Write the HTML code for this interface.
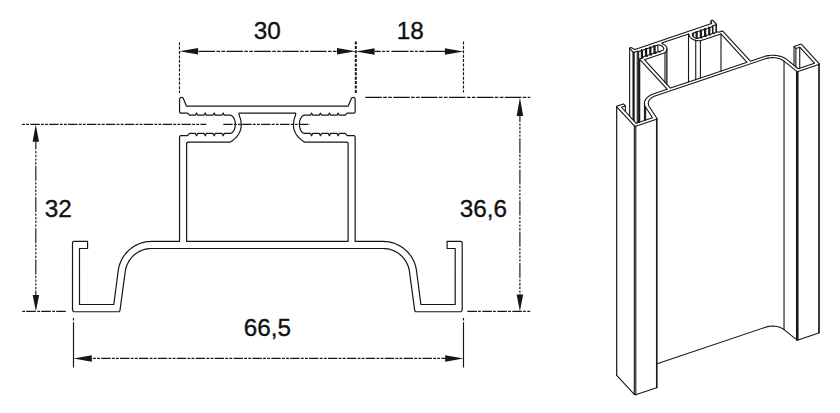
<!DOCTYPE html>
<html lang="en"><head><meta charset="utf-8"><title>Profile 66,5 x 36,6</title>
<style>html,body{margin:0;padding:0;background:#fff;overflow:hidden}svg{display:block}.e{fill:none;stroke:#161616;stroke-width:1.1;stroke-linecap:round;stroke-linejoin:round}</style></head>
<body>
<svg width="840" height="413" viewBox="0 0 840 413" font-family="'Liberation Sans', Arial, Helvetica, sans-serif" fill="#111">
<rect width="840" height="413" fill="#fff"/>
<g id="dimensions">
<path d="M179.5 42.2L179.5 93" fill="none" stroke="#161616" stroke-width="1.15" stroke-dasharray="3 1.4" stroke-dashoffset="0"/>
<path d="M355.8 41.5L355.8 93.5" fill="none" stroke="#161616" stroke-width="2.0" stroke-dasharray="3 1.4" stroke-dashoffset="0"/>
<path d="M463.5 41.5L463.5 92.5" fill="none" stroke="#161616" stroke-width="1.15" stroke-dasharray="3 1.4" stroke-dashoffset="0"/>
<path d="M198.5 51.3L337.5 51.3" fill="none" stroke="#161616" stroke-width="1.15" stroke-dasharray="16.5 1.4 3.6 1.4 3.6 1.4" stroke-dashoffset="0"/>
<path d="M375 51.4L445 51.4" fill="none" stroke="#161616" stroke-width="1.15" stroke-dasharray="5.7 1.4 2.9 1.4 2.9 2.1 17.1 1.4 3.6 1.4 2.9 1.4 5 1.4 19.3" stroke-dashoffset="0"/>
<path d="M179.5 51.3L198.1 48.05L198.1 54.55Z" fill="#161616"/>
<path d="M355.6 51.3L337 48.05L337 54.55Z" fill="#161616"/>
<path d="M356 51.4L374.6 48.15L374.6 54.65Z" fill="#161616"/>
<path d="M463.5 51.4L444.9 48.15L444.9 54.65Z" fill="#161616"/>
<text x="267.2" y="38.8" font-size="24.3" text-anchor="middle" stroke="#111" stroke-width="0.35">30</text>
<text x="410.2" y="38.8" font-size="24.3" text-anchor="middle" stroke="#111" stroke-width="0.35">18</text>
<path d="M365.3 97.4L530.3 97.4" fill="none" stroke="#161616" stroke-width="1.15" stroke-dasharray="16.5 1.4 3.6 1.4 3.6 1.4" stroke-dashoffset="0"/>
<path d="M467.3 311.4L530.2 311.4" fill="none" stroke="#161616" stroke-width="1.15" stroke-dasharray="9.6 1.2 2.7 1.5" stroke-dashoffset="0"/>
<path d="M519.9 115L519.9 296" fill="none" stroke="#161616" stroke-width="1.15" stroke-dasharray="15 1.4 2.3 1.4 2.3 1.4 2.3 1.4 2.3 1.4" stroke-dashoffset="8"/>
<path d="M519.9 97.4L516.65 115.9L523.15 115.9Z" fill="#161616"/>
<path d="M519.9 311.5L516.65 294.5L523.15 294.5Z" fill="#161616"/>
<text x="483.5" y="216.9" font-size="24.3" text-anchor="middle" stroke="#111" stroke-width="0.35">36,6</text>
<path d="M22.1 124.4L206.2 124.4" fill="none" stroke="#161616" stroke-width="1.15" stroke-dasharray="9.4 1.3 2.8 1.3 2.8 1.3" stroke-dashoffset="10.7"/>
<path d="M223.3 124.4L310 124.4" fill="none" stroke="#161616" stroke-width="1.15" stroke-dasharray="9.4 1.3 2.8 1.3 2.8 1.3" stroke-dashoffset="0"/>
<path d="M65.8 311.3L22.1 311.3" fill="none" stroke="#161616" stroke-width="1.15" stroke-dasharray="9.6 1.2 2.7 1.5" stroke-dashoffset="0"/>
<path d="M35.8 141.5L35.8 296" fill="none" stroke="#161616" stroke-width="1.15" stroke-dasharray="15 1.4 2.3 1.4 2.3 1.4 2.3 1.4 2.3 1.4" stroke-dashoffset="6.9"/>
<path d="M35.8 124.4L32.55 141.8L39.05 141.8Z" fill="#161616"/>
<path d="M35.9 311.2L32.65 295L39.15 295Z" fill="#161616"/>
<text x="58.3" y="217.3" font-size="24.3" text-anchor="middle" stroke="#111" stroke-width="0.35">32</text>
<path d="M73.5 318L73.5 367.5" fill="none" stroke="#161616" stroke-width="1.15" stroke-dasharray="2.6 1.6 200 0" stroke-dashoffset="0"/>
<path d="M463.5 318L463.5 367.5" fill="none" stroke="#161616" stroke-width="1.15" stroke-dasharray="2.6 1.6 200 0" stroke-dashoffset="0"/>
<path d="M91.5 358.4L445.5 358.4" fill="none" stroke="#161616" stroke-width="1.15" stroke-dasharray="9.4 1.3 2.8 1.3 2.8 1.3" stroke-dashoffset="9.2"/>
<path d="M73.5 358.4L91.8 355.15L91.8 361.65Z" fill="#161616"/>
<path d="M463.5 358.4L445.2 355.15L445.2 361.65Z" fill="#161616"/>
<text x="267.4" y="336" font-size="24.3" text-anchor="middle" stroke="#111" stroke-width="0.35">66,5</text>
</g>
<g id="profile">
<path d="M267.35 106.2L186.6 106.2L183.4 98.7L182.87 97.97L182.09 97.51L181.21 97.39L180.39 97.66L179.79 98.37L179.55 99.6L179.55 111.7L179.66 112.27L179.99 112.76L180.48 113.09L181.05 113.2L187.6 113.2L189.4 115.2L195.2 115.2L196.6 113L197.6 115.2L203.9 115.2L205.3 113L206.3 115.2L212.9 115.2L214.3 113L215.3 115.2L221.8 115.2L223.2 113L224.2 115.2L230 115.2L231.18 115.43L232.3 116.1L233.3 117.19L234.14 118.63L234.78 120.35L235.17 122.28L235.3 124.3L235.17 126.32L234.78 128.25L234.14 129.97L233.3 131.41L232.3 132.5L231.18 133.17L230 133.4L224.2 133.4L223.2 135.8L221.8 133.4L215.3 133.4L214.3 135.8L212.9 133.4L206.3 133.4L205.3 135.8L203.9 133.4L197.6 133.4L196.6 135.8L195.2 133.4L189.4 133.4L187.6 135.6L181.05 135.6L180.48 135.71L179.99 136.04L179.66 136.53L179.55 137.1L179.55 241.4L151.6 241.4L148.59 241.53L145.61 241.94L142.67 242.6L139.81 243.53L137.04 244.71L134.38 246.13L131.86 247.78L129.5 249.65L127.32 251.73L125.33 253.99L123.55 256.42L122 259L120.68 261.7L119.6 264.52L118.79 267.42L118.23 270.38L113.8 304.5L79.5 304.5L79.5 248.5L87.6 248.5L87.6 241.4L74 241.4L73.43 241.51L72.94 241.84L72.61 242.33L72.5 242.9L72.5 309.75L72.65 310.52L73.09 311.16L73.73 311.6L74.5 311.75L118.2 311.75L119.18 311.56L119.79 310.88L120.1 309.55L125.26 271.37L125.7 269.03L126.35 266.75L127.19 264.53L128.23 262.39L129.46 260.35L130.87 258.44L132.44 256.65L134.16 255.02L136.02 253.54L138.01 252.23L140.1 251.11L142.29 250.18L144.55 249.45L146.87 248.92L149.23 248.61L151.6 248.5L267.35 248.5L383.1 248.5L385.47 248.61L387.83 248.92L390.15 249.45L392.41 250.18L394.6 251.11L396.69 252.23L398.68 253.54L400.54 255.02L402.26 256.65L403.83 258.44L405.24 260.35L406.47 262.39L407.51 264.53L408.35 266.75L409 269.03L409.44 271.37L414.6 309.55L414.91 310.88L415.52 311.56L416.5 311.75L460.2 311.75L460.97 311.6L461.61 311.16L462.05 310.52L462.2 309.75L462.2 242.9L462.09 242.33L461.76 241.84L461.27 241.51L460.7 241.4L447.1 241.4L447.1 248.5L455.2 248.5L455.2 304.5L420.9 304.5L416.47 270.38L415.91 267.42L415.1 264.52L414.02 261.7L412.7 259L411.15 256.42L409.37 253.99L407.38 251.73L405.2 249.65L402.84 247.78L400.32 246.13L397.66 244.71L394.89 243.53L392.03 242.6L389.09 241.94L386.11 241.53L383.1 241.4L355.15 241.4L355.15 137.1L355.04 136.53L354.71 136.04L354.22 135.71L353.65 135.6L347.1 135.6L345.3 133.4L339.5 133.4L338.1 135.8L337.1 133.4L330.8 133.4L329.4 135.8L328.4 133.4L321.8 133.4L320.4 135.8L319.4 133.4L312.9 133.4L311.5 135.8L310.5 133.4L304.7 133.4L303.52 133.17L302.4 132.5L301.4 131.41L300.56 129.97L299.92 128.25L299.53 126.32L299.4 124.3L299.53 122.28L299.92 120.35L300.56 118.63L301.4 117.19L302.4 116.1L303.52 115.43L304.7 115.2L310.5 115.2L311.5 113L312.9 115.2L319.4 115.2L320.4 113L321.8 115.2L328.4 115.2L329.4 113L330.8 115.2L337.1 115.2L338.1 113L339.5 115.2L345.3 115.2L347.1 113.2L353.65 113.2L354.22 113.09L354.71 112.76L355.04 112.27L355.15 111.7L355.15 99.6L354.91 98.37L354.31 97.66L353.49 97.39L352.61 97.51L351.83 97.97L351.3 98.7L348.1 106.2ZM267.35 113.2L239 113.2L239.2 115.6L240.4 118.6L241 121.5L241.3 124.4L241 128.2L240.1 131.3L238.7 134L236.8 136.7L234.4 138.9L232.3 140.7L230 142.2L188.1 142.2L187.53 142.31L187.04 142.64L186.71 143.13L186.6 143.7L186.6 241.4L267.35 241.4L348.1 241.4L348.1 143.7L347.99 143.13L347.66 142.64L347.17 142.31L346.6 142.2L304.7 142.2L302.4 140.7L300.3 138.9L297.9 136.7L296 134L294.6 131.3L293.7 128.2L293.4 124.4L293.7 121.5L294.3 118.6L295.5 115.6L295.7 113.2Z" fill="none" stroke="#161616" stroke-width="1.2" stroke-linejoin="round"/>
</g>
<g id="iso">
<path class="e" d="M629.64 48.26V116.08M633.03 52.11V119.78M634.14 52.3V120.98M637.25 51.25V122.94M638.63 51.54V122.48M641.38 50.61V58.25M641.46 49.76V58.23M642.52 50.23V57.87M645.5 49.22V56.04M645.59 48.37V56.01M646.64 48.84V55.99M649.77 47.78V54.6M649.86 46.93V54.57M650.91 47.4V54.65M653.99 46.36V53.18M654.08 45.51V53.15M655.13 45.98V53.2M657.88 45.05V51.87M659.92 51.18V51.98M655.69 52.61V53.4M651.43 54.04V54.84M647.3 55.43V56.23M639.61 59.2V122.14M639.71 59.38V122.11M644.45 103.46V120.51M645.65 107.32V120.11M625.37 105.95V111.43M616.64 106.58V375.08M616.74 106.76V375.26M634.31 125.9V394.4M635.78 126.15V394.65M656.51 119.17V387.67M656.92 118.95V387.45M657.03 118.66V387.16M784.03 61.07V329.57M796.51 71.17V339.67M797.01 71.5V340M797.48 71.6V340.1M797.99 71.5V340M818.72 64.52V333.02M819.27 63.87V332.37M794.02 46.47V65.32M795.88 48.51V66.85M799.73 47.21V68.2M693.31 33.11V36.68M696.06 32.18V38.29M697.2 31.8V38.44M700.29 30.76V37.58M701.42 30.38V37.67M704.55 29.32V36.14M705.69 28.94V36.27M708.68 27.93V34.75M709.82 27.55V34.76M712.57 26.62V33.44M712.9 25.76V33.33M716 24.72V32.29M716.42 24.23V32.15M711.08 20.94V23.75M666.95 49.04V84.28M666.76 50.12V84.07M664.98 52.78V82.13M720.99 33.9V71.08M700.41 40.84V78.01M695.74 40.35V79.59M688.52 33.98V82.02"/>
<path class="e" d="M616.64 375.08L616.74 375.26L634.31 394.4L634.58 394.59L634.96 394.71L635.38 394.73L635.78 394.65L656.51 387.67L656.92 387.45L657.03 387.16M657.15 363.75L765.53 327.23L766.68 326.88L767.88 326.6L769.12 326.38L770.39 326.23L771.67 326.14L772.96 326.13L774.24 326.19L775.51 326.31L776.76 326.5L777.98 326.76L779.15 327.09L780.26 327.47L781.32 327.92L782.3 328.42L783.21 328.97L784.03 329.57L796.51 339.67L797.01 340L797.48 340.1L797.99 340L818.72 333.02L819.04 332.85L819.24 332.62L819.27 332.37"/>
<path class="e" d="M673.23 36.5L634.93 49.41L631.44 47.77L631 47.65L630.51 47.64L630.06 47.75L629.74 47.95L629.64 48.26L629.86 48.65L633.03 52.11L633.24 52.25L633.52 52.34L633.84 52.36L634.14 52.3L637.25 51.25L638.63 51.54L641.38 50.61L641.46 49.76L642.52 50.23L645.5 49.22L645.59 48.37L646.64 48.84L649.77 47.78L649.86 46.93L650.91 47.4L653.99 46.36L654.08 45.51L655.13 45.98L657.88 45.05L658.5 44.93L659.21 44.94L659.97 45.09L660.75 45.37L661.5 45.76L662.19 46.25L662.79 46.81L663.26 47.41L663.58 48.02L663.73 48.61L663.71 49.16L663.52 49.63L663.17 50L662.67 50.26L659.92 51.18L660.07 52.03L658.78 51.57L655.69 52.61L655.85 53.45L654.56 52.99L651.43 54.04L651.58 54.89L650.29 54.43L647.3 55.43L647.46 56.28L646.16 55.82L643.41 56.75L643.13 57.66L640.03 58.71L639.79 58.83L639.64 59L639.61 59.2L639.71 59.38L667.12 89.23L653.86 93.7L652.47 94.21L651.16 94.81L649.95 95.47L648.83 96.19L647.83 96.97L646.94 97.8L646.18 98.68L645.55 99.59L645.06 100.53L644.71 101.5L644.51 102.48L644.45 103.46L644.53 104.45L644.76 105.42L645.14 106.38L645.65 107.32L652.52 117.8L636.25 123.28L621.53 107.25L625.37 105.95L623.51 103.92L617.06 106.1L616.82 106.22L616.67 106.39L616.64 106.58L616.74 106.76L634.31 125.9L634.58 126.09L634.96 126.21L635.38 126.23L635.78 126.15L656.51 119.17L656.92 118.95L657.03 118.66L656.83 118.23L649.25 106.48L648.84 105.74L648.55 104.99L648.36 104.21L648.3 103.44L648.34 102.66L648.51 101.88L648.78 101.12L649.17 100.38L649.66 99.66L650.26 98.97L650.96 98.31L651.76 97.7L652.64 97.13L653.6 96.6L654.63 96.14L655.73 95.73L710.63 77.23L765.53 58.73L766.68 58.38L767.88 58.1L769.12 57.88L770.39 57.73L771.67 57.64L772.96 57.63L774.24 57.69L775.51 57.81L776.76 58L777.98 58.26L779.15 58.59L780.26 58.97L781.32 59.42L782.3 59.92L783.21 60.47L784.03 61.07L796.51 71.17L797.01 71.5L797.48 71.6L797.99 71.5L818.72 64.52L819.04 64.35L819.24 64.12L819.27 63.87L819.14 63.62L801.58 44.49L801.37 44.34L801.09 44.26L800.77 44.24L800.47 44.3L794.02 46.47L795.88 48.51L799.73 47.21L814.44 63.24L798.18 68.72L787.1 59.66L786.06 58.9L784.91 58.2L783.67 57.57L782.33 57.01L780.91 56.52L779.43 56.11L777.89 55.78L776.31 55.53L774.7 55.37L773.07 55.3L771.44 55.32L769.82 55.43L768.22 55.62L766.65 55.9L765.13 56.26L763.66 56.7L750.41 61.17L723 31.32L722.79 31.17L722.51 31.08L722.19 31.07L721.89 31.13L718.78 32.17L717.35 31.83L714.6 32.76L714.57 33.67L713.46 33.14L710.48 34.15L710.44 35.06L709.34 34.53L706.21 35.59L706.17 36.5L705.07 35.97L701.99 37.01L701.95 37.92L700.85 37.39L698.1 38.32L697.48 38.44L696.77 38.43L696.01 38.28L695.23 38L694.48 37.61L693.79 37.12L693.19 36.56L692.72 35.96L692.4 35.35L692.25 34.75L692.27 34.21L692.46 33.74L692.81 33.37L693.31 33.11L696.06 32.18L695.96 31.4L697.2 31.8L700.29 30.76L700.18 29.97L701.42 30.38L704.55 29.32L704.45 28.53L705.69 28.94L708.68 27.93L708.58 27.14L709.82 27.55L712.57 26.62L712.9 25.76L716 24.72L716.25 24.59L716.39 24.42L716.42 24.23L716.32 24.05L713.14 20.58L712.71 20.27L712.23 20.16L711.77 20.22L711.39 20.39L711.14 20.65L711.08 20.94L711.53 23.6ZM675.07 38.51L661.63 43.04L662.35 43.69L663.71 44.36L664.76 45.09L665.66 45.88L666.52 47.01L666.9 48.04L666.95 49.04L666.76 50.12L666.2 51.13L665.68 51.98L664.98 52.78L644.39 59.71L670.46 88.1L708.76 75.2L747.06 62.29L720.99 33.9L700.41 40.84L698.92 40.78L697.45 40.6L695.74 40.35L694.13 39.88L692.75 39.33L691.51 38.59L690.37 37.55L689.75 36.67L689.27 35.75L689.05 34.7L688.52 33.98Z"/>
</g>
</svg>
</body></html>
